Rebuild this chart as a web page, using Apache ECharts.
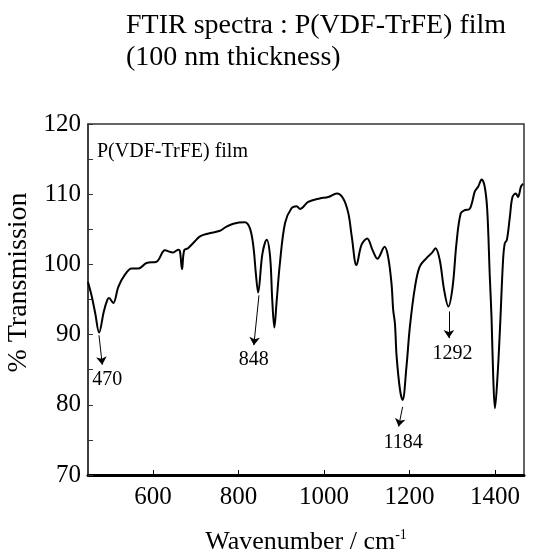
<!DOCTYPE html>
<html>
<head>
<meta charset="utf-8">
<script src="https://cdn.jsdelivr.net/npm/echarts@6/dist/echarts.min.js"></script>
<style>
html,body{margin:0;padding:0;background:#fff;}
#chart{width:544px;height:554px;}
</style>
</head>
<body>
<div id="chart"></div>
<script>
// Wavenumber (cm^-1)
var wavenumber = [448,457,465,474,485,493,497,507,519,534,550,566,585,609,628,647,659,663,668,673,682,698,710,730,757,770,788,815,827,835,841,846,856,866,874,879,884,889,897,909,924,936,944,963,990,1010,1030,1045,1057,1065,1076,1088,1101,1114,1125,1142,1150,1158,1162,1166,1170,1178,1184,1193,1201,1213,1224,1240,1252,1261,1271,1281,1291,1301,1310,1320,1330,1340,1346,1353,1361,1369,1376,1382,1388,1392,1396,1400,1406,1412,1419,1423,1428,1435,1441,1449,1454,1461,1466];
// % Transmission
var transmission = [97.5,95.4,93.0,90.3,93.3,94.9,95.2,94.5,96.8,98.5,99.4,99.4,100.2,100.4,102.0,101.7,102.1,101.9,99.3,102.0,102.3,103.3,104.0,104.4,104.8,105.3,105.8,106.0,105.1,102.5,98.5,96.0,101.5,103.5,101.1,95.0,91.0,94.5,100.2,105.9,108.0,108.3,107.9,108.9,109.4,109.6,110.1,109.4,107.3,104.0,99.9,102.8,103.7,102.0,100.8,102.5,101.1,97.3,93.5,91.6,86.9,82.1,80.7,85.4,91.1,96.8,99.7,100.9,101.6,102.3,100.6,96.4,94.0,96.8,103.0,107.3,107.75,107.85,108.7,110.4,111.1,112.1,111.1,107.75,98.25,92.5,84.0,79.5,84.0,91.1,100.6,103.0,103.5,106.8,109.6,110.1,109.6,111.1,111.5];
// Peak annotations
var peakLabels = ['470','848','1184','1292'];
var arrowFrom = [[473.7,89.9],[848,95.6],[1184,79.7],[1292.3,93.3]];
var arrowTo   = [[481.4,85.7],[836,88.5],[1174.7,76.9],[1292.3,89.5]];
var labelAt   = [[493.3,83.5],[836,86.4],[1185.5,74.6],[1301,87.3]];
var xTicks = [600,800,1000,1200,1400];

var FONT = "'Liberation Serif','Times New Roman',serif";
var seriesData = wavenumber.map(function(w,i){return [w, transmission[i]];});

var chart = echarts.init(document.getElementById('chart'), null, {renderer:'canvas'});
chart.setOption({
  animation:false,
  backgroundColor:'#fff',
  title:{
    text:'FTIR spectra : P(VDF-TrFE) film\n(100 nm thickness)',
    left:121, top:5,
    textStyle:{fontFamily:FONT, fontSize:28, fontWeight:'normal', color:'#000', lineHeight:32}
  },
  grid:{left:88, right:20, top:124, bottom:79, outerBoundsMode:'none', containLabel:false,
    show:true, borderColor:'#333', borderWidth:1.5, backgroundColor:'transparent'},
  xAxis:{
    type:'value', min:448, max:1468,
    name:'Wavenumber / cm{sup|-1}',
    nameLocation:'middle', nameGap:53,
    nameTextStyle:{fontFamily:FONT, fontSize:26, color:'#000',
      rich:{sup:{fontFamily:FONT, fontSize:14, color:'#000', verticalAlign:'top', padding:[0,0,14,0]}}},
    axisLine:{show:true, onZero:false, lineStyle:{color:'#000', width:3}},
    axisTick:{show:true, inside:true, length:5, customValues:xTicks, lineStyle:{color:'#000', width:1}},
    axisLabel:{customValues:xTicks, fontFamily:FONT, fontSize:25, color:'#000', margin:10,
      formatter:function(v){return String(v);}},
    splitLine:{show:false}
  },
  yAxis:{
    type:'value', min:70, max:120, interval:10,
    name:'% Transmission',
    nameLocation:'middle', nameGap:49,
    nameTextStyle:{fontFamily:FONT, fontSize:28, color:'#000', padding:[0,0,0,34]},
    axisLine:{show:true, onZero:false, lineStyle:{color:'#333', width:1.5}},
    axisTick:{show:true, inside:true, length:5, lineStyle:{color:'#333'}},
    minorTick:{show:true, splitNumber:2, length:5, lineStyle:{color:'#333'}},
    axisLabel:{fontFamily:FONT, fontSize:25, color:'#000', margin:7},
    splitLine:{show:false}
  },
  graphic:[{
    type:'text', left:97, top:142,
    style:{text:'P(VDF-TrFE) film', fontFamily:FONT, fontSize:20, fill:'#000'}
  }],
  series:[{
    type:'line',
    data:seriesData,
    smooth:0.35,
    showSymbol:false,
    lineStyle:{color:'#000', width:2},
    markLine:{
      silent:true,
      symbol:['none','arrow'], symbolSize:8,
      lineStyle:{color:'#000', width:1, type:'solid'},
      label:{show:false},
      data:arrowFrom.map(function(f,i){return [{coord:f},{coord:arrowTo[i]}];})
    },
    markPoint:{
      silent:true,
      symbol:'circle', symbolSize:1,
      itemStyle:{color:'rgba(0,0,0,0)'},
      label:{show:true, position:'inside', fontFamily:FONT, fontSize:20, color:'#000', formatter:function(p){return p.name;}},
      data:labelAt.map(function(c,i){return {name:peakLabels[i], coord:c};})
    }
  }]
});
</script>
</body>
</html>
